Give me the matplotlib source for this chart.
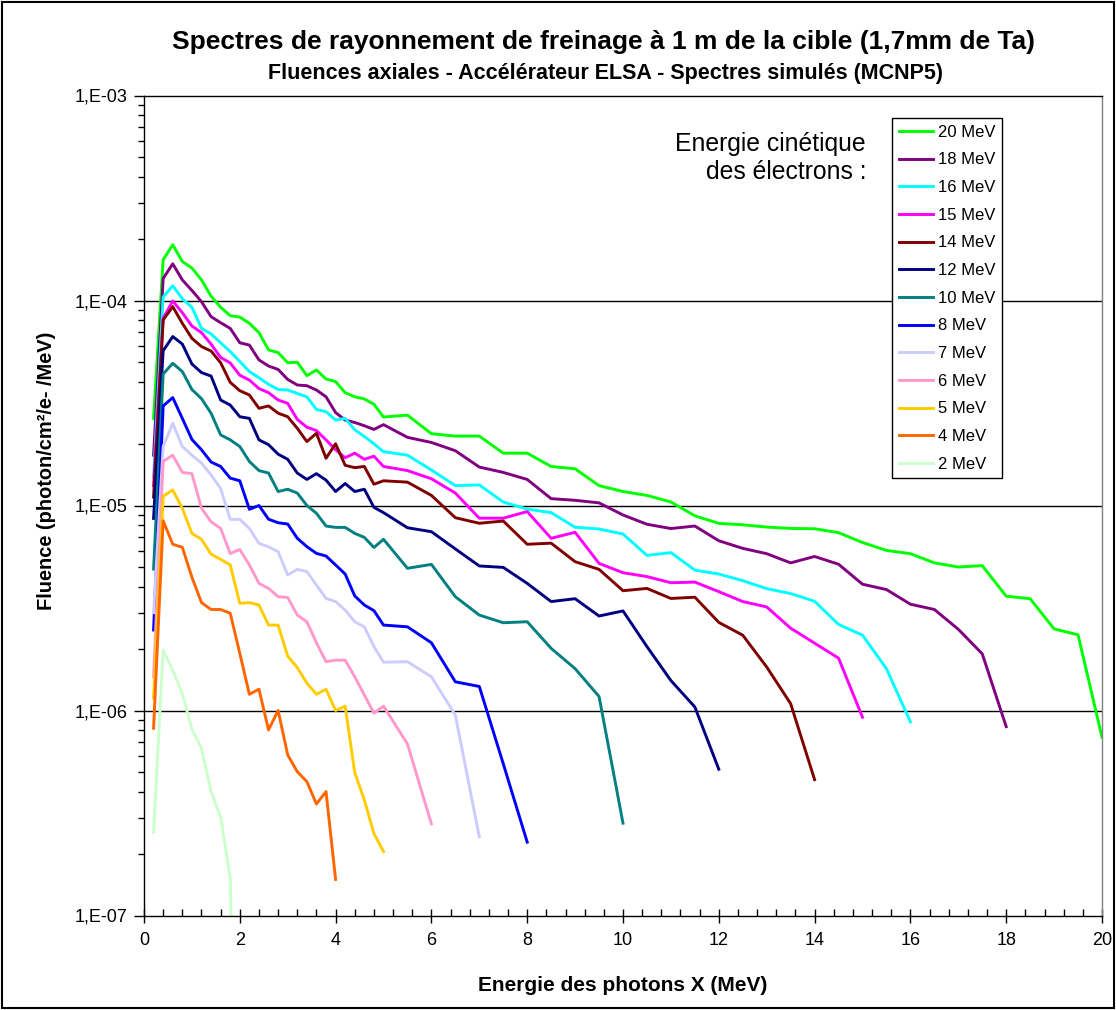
import math
import matplotlib
matplotlib.use("Agg")
import matplotlib.pyplot as plt
from matplotlib.patches import Rectangle
from matplotlib.ticker import FixedLocator, MultipleLocator, FuncFormatter, NullFormatter

plt.rcParams['font.family'] = ['Liberation Sans', 'DejaVu Sans']

# photon energy grid (MeV): 0.2 MeV steps up to 5 MeV, then 0.5 MeV steps
photon_energy = [0.2, 0.4, 0.6, 0.8, 1.0, 1.2, 1.4, 1.6, 1.8, 2.0,
                 2.2, 2.4, 2.6, 2.8, 3.0, 3.2, 3.4, 3.6, 3.8, 4.0,
                 4.2, 4.4, 4.6, 4.8, 5.0, 5.5, 6.0, 6.5, 7.0, 7.5,
                 8.0, 8.5, 9.0, 9.5, 10.0, 10.5, 11.0, 11.5, 12.0, 12.5,
                 13.0, 13.5, 14.0, 14.5, 15.0, 15.5, 16.0, 16.5, 17.0, 17.5,
                 18.0, 18.5, 19.0, 19.5, 20.0]

# fluence (photon/cm2/e-/MeV) for each electron energy
f20 = [2.66e-5, 1.58e-4, 1.87e-4, 1.55e-4, 1.44e-4, 1.26e-4, 1.05e-4, 9.27e-5, 8.43e-5, 8.3e-5,
       7.74e-5, 6.97e-5, 5.74e-5, 5.57e-5, 4.97e-5, 5.0e-5, 4.30e-5, 4.58e-5, 4.14e-5, 4.02e-5,
       3.55e-5, 3.39e-5, 3.31e-5, 3.12e-5, 2.70e-5, 2.76e-5, 2.24e-5, 2.18e-5, 2.18e-5, 1.80e-5,
       1.80e-5, 1.55e-5, 1.51e-5, 1.25e-5, 1.17e-5, 1.12e-5, 1.04e-5, 8.91e-6, 8.18e-6, 8.05e-6,
       7.85e-6, 7.73e-6, 7.7e-6, 7.37e-6, 6.6e-6, 6.04e-6, 5.82e-6, 5.25e-6, 5.01e-6, 5.09e-6,
       3.61e-6, 3.51e-6, 2.50e-6, 2.34e-6, 7.4e-7]
f18 = [1.76e-5, 1.28e-4, 1.51e-4, 1.26e-4, 1.12e-4, 9.87e-5, 8.34e-5, 7.79e-5, 7.31e-5, 6.22e-5,
       6.06e-5, 5.13e-5, 4.79e-5, 4.61e-5, 4.12e-5, 3.87e-5, 3.84e-5, 3.66e-5, 3.39e-5, 2.84e-5,
       2.61e-5, 2.54e-5, 2.45e-5, 2.35e-5, 2.48e-5, 2.15e-5, 2.03e-5, 1.85e-5, 1.54e-5, 1.45e-5,
       1.34e-5, 1.08e-5, 1.06e-5, 1.03e-5, 8.99e-6, 8.10e-6, 7.72e-6, 7.94e-6, 6.73e-6, 6.18e-6,
       5.82e-6, 5.25e-6, 5.64e-6, 5.17e-6, 4.13e-6, 3.89e-6, 3.30e-6, 3.11e-6, 2.49e-6, 1.89e-6,
       8.34e-7]
f16 = [1.38e-5, 1.04e-4, 1.18e-4, 1.02e-4, 9.27e-5, 7.31e-5, 6.87e-5, 6.22e-5, 5.63e-5, 5.04e-5,
       4.50e-5, 4.20e-5, 3.90e-5, 3.68e-5, 3.66e-5, 3.52e-5, 3.39e-5, 2.94e-5, 2.87e-5, 2.61e-5,
       2.66e-5, 2.34e-5, 2.17e-5, 2.0e-5, 1.83e-5, 1.76e-5, 1.49e-5, 1.25e-5, 1.26e-5, 1.04e-5,
       9.6e-6, 9.23e-6, 7.83e-6, 7.68e-6, 7.26e-6, 5.71e-6, 5.89e-6, 4.84e-6, 4.63e-6, 4.30e-6,
       3.93e-6, 3.72e-6, 3.41e-6, 2.63e-6, 2.33e-6, 1.60e-6, 8.8e-7]
f15 = [1.25e-5, 8.19e-5, 9.95e-5, 8.72e-5, 7.51e-5, 6.97e-5, 6.13e-5, 5.27e-5, 4.96e-5, 4.32e-5,
       4.09e-5, 3.72e-5, 3.55e-5, 3.27e-5, 3.15e-5, 2.63e-5, 2.41e-5, 2.32e-5, 2.09e-5, 1.87e-5,
       1.71e-5, 1.80e-5, 1.68e-5, 1.74e-5, 1.55e-5, 1.48e-5, 1.35e-5, 1.15e-5, 8.67e-6, 8.67e-6,
       9.34e-6, 6.92e-6, 7.40e-6, 5.22e-6, 4.70e-6, 4.50e-6, 4.20e-6, 4.23e-6, 3.80e-6, 3.40e-6,
       3.20e-6, 2.52e-6, 2.13e-6, 1.80e-6, 9.27e-7]
f14 = [1.1e-5, 8.04e-5, 9.33e-5, 7.74e-5, 6.54e-5, 5.96e-5, 5.67e-5, 4.97e-5, 3.99e-5, 3.63e-5,
       3.46e-5, 2.98e-5, 3.06e-5, 2.82e-5, 2.71e-5, 2.38e-5, 2.05e-5, 2.25e-5, 1.70e-5, 2.0e-5,
       1.57e-5, 1.53e-5, 1.55e-5, 1.27e-5, 1.32e-5, 1.30e-5, 1.12e-5, 8.72e-6, 8.19e-6, 8.4e-6,
       6.47e-6, 6.55e-6, 5.32e-6, 4.88e-6, 3.84e-6, 3.94e-6, 3.52e-6, 3.57e-6, 2.69e-6, 2.33e-6,
       1.63e-6, 1.08e-6, 4.6e-7]
f12 = [8.65e-6, 5.69e-5, 6.67e-5, 6.13e-5, 4.90e-5, 4.45e-5, 4.28e-5, 3.27e-5, 3.09e-5, 2.71e-5,
       2.66e-5, 2.09e-5, 1.98e-5, 1.78e-5, 1.68e-5, 1.44e-5, 1.34e-5, 1.43e-5, 1.33e-5, 1.17e-5,
       1.28e-5, 1.17e-5, 1.20e-5, 9.8e-6, 9.23e-6, 7.79e-6, 7.45e-6, 6.14e-6, 5.07e-6, 4.99e-6,
       4.17e-6, 3.40e-6, 3.51e-6, 2.89e-6, 3.06e-6, 2.05e-6, 1.40e-6, 1.04e-6, 5.17e-7]
f10 = [4.9e-6, 4.38e-5, 4.94e-5, 4.50e-5, 3.68e-5, 3.32e-5, 2.82e-5, 2.21e-5, 2.09e-5, 1.94e-5,
       1.64e-5, 1.48e-5, 1.44e-5, 1.17e-5, 1.20e-5, 1.15e-5, 1.0e-5, 9.16e-6, 7.94e-6, 7.82e-6,
       7.82e-6, 7.31e-6, 6.99e-6, 6.24e-6, 6.84e-6, 4.94e-6, 5.16e-6, 3.59e-6, 2.92e-6, 2.68e-6,
       2.71e-6, 2.01e-6, 1.60e-6, 1.17e-6, 2.82e-7]
f8 = [2.47e-6, 3.06e-5, 3.36e-5, 2.66e-5, 2.10e-5, 1.87e-5, 1.63e-5, 1.55e-5, 1.36e-5, 1.32e-5,
      9.58e-6, 1.0e-5, 8.57e-6, 8.24e-6, 8.12e-6, 6.92e-6, 6.30e-6, 5.84e-6, 5.67e-6, 5.13e-6,
      4.63e-6, 3.62e-6, 3.27e-6, 3.07e-6, 2.61e-6, 2.56e-6, 2.14e-6, 1.38e-6, 1.31e-6, 5.5e-7,
      2.28e-7]
f7 = [3.0e-6, 1.94e-5, 2.52e-5, 1.94e-5, 1.76e-5, 1.61e-5, 1.41e-5, 1.21e-5, 8.56e-6, 8.56e-6,
      7.73e-6, 6.53e-6, 6.29e-6, 5.95e-6, 4.58e-6, 4.88e-6, 4.76e-6, 4.09e-6, 3.52e-6, 3.40e-6,
      3.09e-6, 2.71e-6, 2.56e-6, 2.05e-6, 1.72e-6, 1.73e-6, 1.46e-6, 9.5e-7, 2.42e-7]
f6 = [1.46e-6, 1.64e-5, 1.76e-5, 1.45e-5, 1.43e-5, 9.7e-6, 8.33e-6, 7.73e-6, 5.83e-6, 6.1e-6,
      5.13e-6, 4.17e-6, 3.94e-6, 3.59e-6, 3.56e-6, 2.92e-6, 2.71e-6, 2.14e-6, 1.73e-6, 1.76e-6,
      1.76e-6, 1.46e-6, 1.19e-6, 9.7e-7, 1.05e-6, 6.87e-7, 2.8e-7]
f5 = [1.15e-6, 1.11e-5, 1.19e-5, 9.7e-6, 7.31e-6, 6.84e-6, 5.79e-6, 5.46e-6, 5.13e-6, 3.33e-6,
      3.36e-6, 3.27e-6, 2.61e-6, 2.61e-6, 1.84e-6, 1.62e-6, 1.36e-6, 1.20e-6, 1.27e-6, 1.0e-6,
      1.05e-6, 4.97e-7, 3.66e-7, 2.51e-7, 2.05e-7]
f4 = [8.2e-7, 8.43e-6, 6.47e-6, 6.25e-6, 4.47e-6, 3.36e-6, 3.11e-6, 3.11e-6, 2.98e-6, 1.90e-6,
      1.20e-6, 1.27e-6, 8.04e-7, 1.0e-6, 6.07e-7, 5.03e-7, 4.50e-7, 3.50e-7, 4.02e-7, 1.50e-7]
f2 = [2.54e-7, 1.97e-6, 1.57e-6, 1.21e-6, 8.1e-7, 6.54e-7, 4.02e-7, 3.03e-7, 1.52e-7, 1.0e-9]

electron_energy = [20, 18, 16, 15, 14, 12, 10, 8, 7, 6, 5, 4, 2]
spectra = [f20, f18, f16, f15, f14, f12, f10, f8, f7, f6, f5, f4, f2]
colors = ['#00ff00', '#800080', '#00ffff', '#ff00ff', '#800000', '#000080', '#008080',
          '#0000ff', '#ccccff', '#ff99cc', '#ffcc00', '#ff6600', '#ccffcc']

W, H = 1116, 1010
fig = plt.figure(figsize=(W / 100, H / 100), dpi=100)
ax = fig.add_axes([144 / W, 1 - 915.5 / H, 958 / W, 820 / H])

for gy in [1e-6, 1e-5, 1e-4]:
    ax.axhline(gy, color='black', lw=1.0, zorder=1)

for e, vals, c in zip(electron_energy, spectra, colors):
    ax.plot(photon_energy[:len(vals)], vals, color=c, lw=2.1, label=f"{e} MeV", zorder=2)

ax.set_yscale('log')
ax.set_xlim(0, 20)
ax.set_ylim(1e-7, 1e-3)

ax.xaxis.set_major_locator(MultipleLocator(2))
ax.xaxis.set_minor_locator(MultipleLocator(0.4))
ax.yaxis.set_major_locator(FixedLocator([1e-7, 1e-6, 1e-5, 1e-4, 1e-3]))
ax.yaxis.set_major_formatter(FuncFormatter(lambda v, p: "1,E-%02d" % round(-math.log10(v))))
ax.yaxis.set_minor_formatter(NullFormatter())

ax.tick_params(axis='x', which='major', direction='inout', length=10, width=1, labelsize=13, pad=7)
ax.tick_params(axis='x', which='minor', direction='in', length=5, width=1)
ax.tick_params(axis='y', which='major', direction='out', length=7, width=1, labelsize=13, pad=5)
ax.tick_params(axis='y', which='minor', direction='out', length=4, width=1)

for s in ['left', 'bottom', 'top']:
    ax.spines[s].set_color('black')
    ax.spines[s].set_linewidth(1.0)
ax.spines['right'].set_color('#808080')
ax.spines['right'].set_linewidth(1.0)

ax.set_xlabel("Energie des photons X (MeV)", fontsize=15, fontweight='bold')
ax.xaxis.set_label_coords(0.5, -0.074)
ax.set_ylabel("Fluence (photon/cm²/e- /MeV)", fontsize=14.4, fontweight='bold')
ax.yaxis.set_label_coords(-0.092, 0.542)

fig.text(603 / W, 1 - 42 / H, "Spectres de rayonnement de freinage à 1 m de la cible (1,7mm de Ta)",
         ha='center', va='center', fontsize=19, fontweight='bold')
fig.text(605 / W, 1 - 74 / H, "Fluences axiales - Accélérateur ELSA - Spectres simulés (MCNP5)",
         ha='center', va='center', fontsize=15.5, fontweight='bold')

leg = ax.legend(loc='upper left', bbox_to_anchor=(892 / W, 1 - 118 / H), bbox_transform=fig.transFigure,
                fontsize=12, frameon=True, fancybox=False, edgecolor='black', framealpha=1,
                borderaxespad=0, borderpad=0.4, labelspacing=0.76, handlelength=2.05, handletextpad=0.3)
leg.get_frame().set_linewidth(1.0)

fig.text(866 / W, 1 - 158 / H, "Energie cinétique\ndes électrons :", ha='right', va='center',
         multialignment='right', fontsize=17.8, linespacing=1.25)

fig.patches.append(Rectangle((2 / W, 2 / H), 1 - 4 / W, 1 - 4 / H, transform=fig.transFigure,
                             fill=False, edgecolor='black', lw=1.5))

fig.savefig("out.png", dpi=100)
